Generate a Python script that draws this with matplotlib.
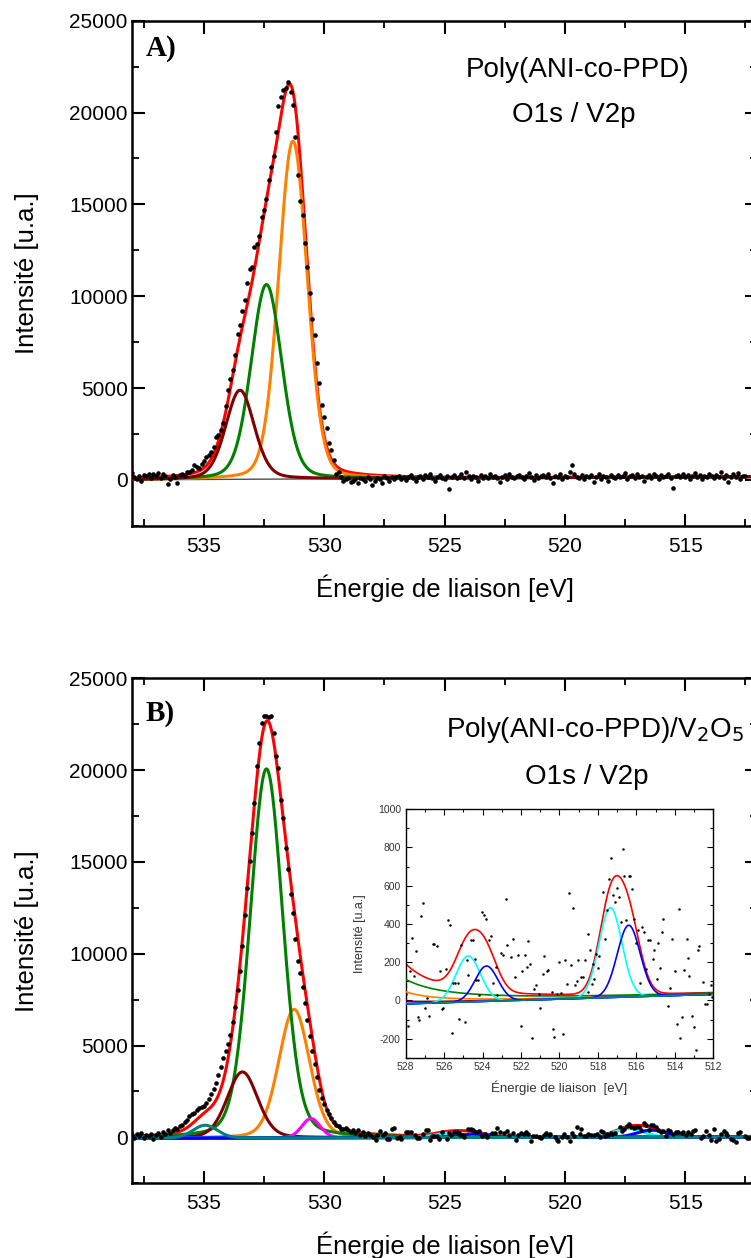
import numpy as np
import matplotlib
matplotlib.use("Agg")
import matplotlib.pyplot as plt
from matplotlib.ticker import MultipleLocator

plt.rcParams['font.family'] = ['Liberation Sans', 'DejaVu Sans']
plt.rcParams['axes.unicode_minus'] = False

# ---------------- donnees : Poly(ANI-co-PPD)  (pas 0.1 eV depuis 538 eV)
intens_A = [
    380, 150, 60, 230, -60, 240, 210, 340, 120, 290,
    200, 380, 110, 310, 220, -250, 60, 240, 130, -150,
    280, 320, 190, 450, 420, 520, 780, 700, 640, 870,
    1000, 1230, 1350, 1500, 1780, 2320, 2450, 2690, 3100, 4000,
    4900, 5500, 6000, 6780, 7960, 8410, 9200, 9775, 10700, 11460,
    11600, 12680, 12860, 13300, 14300, 14720, 15300, 16320, 17040, 17620,
    18930, 20350, 20860, 21220, 21350, 21680, 21100, 20400, 18680, 16600,
    15200, 14400, 12870, 11580, 10150, 8780, 7900, 6350, 5250, 4050,
    3410, 2800, 1980, 1600, 1100, 340, 420, 180, -50, 60,
    120, -120, -60, 40, -150, 80, 20, -90, 150, 60,
    -300, -40, 120, 60, -180, 210, 90, -60, 160, 40,
    130, 220, 70, 150, -20, 180, 260, 100, -80, 140,
    200, 60, 240, 130, 310, 90, -40, 170, 250, 120,
    30, 200, -480, 140, 260, 80, 180, 320, 110, 400,
    190, 50, 230, 160, -60, 270, 120, 210, 80, 340,
    150, 230, 90, -100, 180, 250, 40, 300, 160, 110,
    200, 280, 130, 60, 220, 350, 170, -20, 240, 100,
    190, 260, 140, 330, 80, -160, 210, 170, 290, 50,
    230, 180, 420, 780, 300, 150, 90, 240, 30, 200,
    130, 260, -120, 170, 330, 70, 210, 150, -60, 250,
    180, 90, 280, 140, 220, 360, 40, 190, 260, 110,
    300, 170, 230, -40, 150, 280, 100, 340, 200, 60,
    250, 130, 210, 300, 80, -470, 190, 260, 140, 320,
    170, 240, 60, 190, 370, 130, 280, 20, 220, 160,
    310, 200, 90, 260, 150, 400, 110, 240, -100, 180,
    290, 140, 360, 30, 230, 190,
]

# composantes du fit A : centre, hauteur, FWHM, part lorentzienne
centre_A = [533.5, 532.4, 531.3]
hauteur_A = [4850, 10600, 18400]
fwhm_A = [1.4, 1.5, 1.4]
eta_A = [0.25, 0.2, 0.15]
couleur_A = ['#800000', '#008000', '#ff8000']
fond_A = [0, 170]          # ligne de base a 538 eV et 512 eV

# ---------------- donnees : Poly(ANI-co-PPD)/V2O5
# pic O1s (pas 0.1 eV de 538.0 a 528.1 eV)
intens_B = [
    120, -60, 180, 60, 240, -30, 150, 90, 200, -80,
    110, 230, 40, 310, 180, 420, 260, 380, 520, 450,
    610, 700, 820, 950, 1180, 1250, 1330, 1480, 1600, 1650,
    1690, 1875, 2100, 2350, 2650, 2950, 3400, 3850, 4300, 4700,
    5100, 5600, 6300, 7100, 8000, 9050, 10410, 12085, 13590, 15050,
    16590, 18230, 20220, 21460, 22550, 22950, 22950, 22900, 22950, 22040,
    20770, 20100, 18370, 17410, 15780, 14590, 13230, 12230, 10830, 9590,
    8960, 8200, 7300, 6400, 5500, 4700, 4000, 3300, 2600, 2150,
    1800, 1500, 1250, 1050, 850, 700, 600, 480, 440, 520,
    380, 300, 420, 250, 380, 150, 290, 60, 230, 120,
]

energie_V = [
    527.98, 527.86, 527.79, 527.69, 527.57, 527.48, 527.38, 527.29, 527.20, 527.10,
    526.98, 526.87, 526.80, 526.60, 526.51, 526.39, 526.21, 526.13, 526.04, 525.90,
    525.78, 525.69, 525.59, 525.52, 525.42, 525.30, 525.21, 525.11, 524.90, 524.83,
    524.74, 524.62, 524.48, 524.39, 524.34, 524.24, 524.17, 524.01, 523.91, 523.82,
    523.68, 523.58, 523.44, 523.32, 523.23, 523.02, 522.92, 522.80, 522.71, 522.52,
    522.40, 522.30, 522.14, 522.02, 521.95, 521.81, 521.71, 521.62, 521.53, 521.41,
    521.31, 521.20, 521.08, 521.00, 520.88, 520.79, 520.67, 520.60, 520.41, 520.32,
    520.27, 520.13, 520.04, 519.92, 519.80, 519.70, 519.63, 519.51, 519.38, 519.32,
    519.19, 519.11, 519.02, 518.90, 518.80, 518.67, 518.53, 518.50, 518.41, 518.33,
    518.26, 518.19, 518.10, 518.02, 517.93, 517.72, 517.63, 517.55, 517.43, 517.32,
    517.23, 517.11, 517.03, 516.91, 516.82, 516.70, 516.63, 516.52, 516.40, 516.33,
    516.21, 516.13, 516.02, 515.93, 515.81, 515.73, 515.61, 515.50, 515.38, 515.29,
    515.15, 515.07, 514.95, 514.86, 514.77, 514.67, 514.60, 514.34, 514.25, 514.15,
    514.01, 513.91, 513.80, 513.73, 513.61, 513.51, 513.39, 513.32, 513.25, 513.11,
    513.02, 512.90, 512.81, 512.73, 512.52, 512.43, 512.35, 512.24, 512.14, 512.09,
]
intens_V = [
    31, -135, 152, 329, 126, 261, -89, -105, 440, 507,
    -38, 10, -82, 297, 294, 285, 152, -44, -38, 164,
    420, 397, -170, 93, 93, 91, -96, 292, -114, 211,
    135, 315, 315, 217, 105, 105, 26, 461, 449, 425,
    318, 339, 93, 173, 26, 250, 239, 533, 288, 227,
    320, 122, 236, -133, 154, 239, 175, 309, 192, -198,
    59, 79, 33, -40, 138, 231, 154, 157, 44, -149,
    -189, 35, 199, 38, -175, 213, 87, 563, 184, 481,
    82, 100, 210, 122, 124, 210, 42, 346, 266, 87,
    192, 114, 245, 171, 234, 565, 323, 472, 633, 746,
    551, 516, 586, 542, 411, 790, 650, 423, 650, 650,
    582, 428, 301, 367, 91, 385, 358, 164, 318, 318,
    218, 266, 114, 302, 168, 358, 428, -28, 65, 323,
    154, -126, 477, -196, -87, 157, 323, 224, 128, -84,
    -140, -259, 264, 287, 98, -17, -17, 35, 79, 17,
]

# composantes du fit B
centre_B = [534.95, 533.4, 532.4, 531.25, 530.55, 524.75, 523.8, 517.35, 516.4]
hauteur_B = [700, 3600, 20100, 7000, 1050, 240, 185, 470, 375]
fwhm_B = [1.2, 1.5, 1.6, 1.5, 0.9, 1.5, 1.4, 1.4, 1.4]
eta_B = [0.1, 0.2, 0.2, 0.18, 0.1, 0.0, 0.0, 0.0, 0.0]
couleur_B = ['#008080', '#800000', '#008000', '#ff8000', '#ff00ff',
             '#00ffff', '#0000ff', '#00ffff', '#0000ff']
ordre_B = [9, 5, 4, 3, 6, 7, 8, 7, 8]
fond_B = [-50, 32]


def pseudo_voigt(x, c, h, w, eta):
    d2 = ((x - c) / w) ** 2
    return h * ((1 - eta) * np.exp(-4 * np.log(2) * d2) + eta / (1 + 4 * d2))


def ligne_base(x, fond):
    return fond[0] + (538 - x) * (fond[1] - fond[0]) / 26.0


def habille(ax, lettre, titre1, titre2, ytitre):
    ax.set_xlim(538, 512)
    ax.set_ylim(-2500, 25000)
    ax.xaxis.set_major_locator(MultipleLocator(5))
    ax.xaxis.set_minor_locator(MultipleLocator(2.5))
    ax.yaxis.set_major_locator(MultipleLocator(5000))
    ax.yaxis.set_minor_locator(MultipleLocator(2500))
    ax.tick_params(which='both', direction='in', top=True, right=True)
    ax.tick_params(which='major', length=9, width=1.5, labelsize=15)
    ax.tick_params(which='minor', length=5, width=1.3)
    ax.tick_params(axis='x', which='major', pad=8)
    ax.tick_params(axis='y', which='major', pad=3)
    for s in ax.spines.values():
        s.set_linewidth(1.8)
    ax.set_xlabel('Énergie de liaison [eV]', fontsize=18.5)
    ax.set_ylabel('Intensité [u.a.]', fontsize=18.5)
    ax.xaxis.set_label_coords(0.5, -0.096)
    ax.yaxis.set_label_coords(-0.148, 0.5)
    ax.text(0.022, ytitre, lettre, transform=ax.transAxes, fontsize=21,
            fontweight='bold', family='Liberation Serif', va='center', ha='left')
    ax.text(titre1[1], titre1[2], titre1[0], transform=ax.transAxes,
            fontsize=20, ha='center', va='center')
    ax.text(titre2[1], titre2[2], titre2[0], transform=ax.transAxes,
            fontsize=20, ha='center', va='center')


fig = plt.figure(figsize=(7.51, 12.58), dpi=100)
axA = fig.add_axes([0.1754, 0.5821, 0.833, 0.4014])
axB = fig.add_axes([0.1754, 0.0594, 0.833, 0.4014])

x_fit = np.linspace(538, 512, 1300)

# ---- panneau A
eA = 538.0 - 0.1 * np.arange(len(intens_A))
bA = ligne_base(x_fit, fond_A)
axA.plot(x_fit, bA, color='#4d4d4d', lw=1.0, zorder=2)
somme = bA.copy()
for c, h, w, e in zip(centre_A, hauteur_A, fwhm_A, eta_A):
    somme += pseudo_voigt(x_fit, c, h, w, e)
axA.plot(x_fit, somme, color='#ff0000', lw=2.2, zorder=3)
for k, (c, h, w, e) in enumerate(zip(centre_A, hauteur_A, fwhm_A, eta_A)):
    axA.plot(x_fit, bA + pseudo_voigt(x_fit, c, h, w, e), color=couleur_A[k],
             lw=2.2, zorder=6 - k)
axA.plot(eA, intens_A, 'o', color='black', ms=3.3, mew=0, zorder=10)
habille(axA, 'A)', ('Poly(ANI-co-PPD)', 0.712, 0.902),
        ('O1s / V2p', 0.706, 0.813), 0.945)

# ---- panneau B
eB = np.concatenate([538.0 - 0.1 * np.arange(len(intens_B)), energie_V])
iB = np.concatenate([intens_B, intens_V])
bB = ligne_base(x_fit, fond_B)
compos_B = [bB + pseudo_voigt(x_fit, c, h, w, e)
            for c, h, w, e in zip(centre_B, hauteur_B, fwhm_B, eta_B)]
somme_B = bB + sum(pseudo_voigt(x_fit, c, h, w, e)
                   for c, h, w, e in zip(centre_B, hauteur_B, fwhm_B, eta_B))
axB.plot(x_fit, somme_B, color='#ff0000', lw=2.2, zorder=2)
for k, y in enumerate(compos_B):
    axB.plot(x_fit, y, color=couleur_B[k], lw=2.2, zorder=ordre_B[k])
axB.plot(eB, iB, 'o', color='black', ms=3.3, mew=0, zorder=10)
habille(axB, 'B)', ('Poly(ANI-co-PPD)/V$_2$O$_5$', 0.741, 0.898),
        ('O1s / V2p', 0.728, 0.805), 0.930)

# ---- encart V2p
axI = fig.add_axes([0.5402, 0.1592, 0.4096, 0.1975])
axI.plot(x_fit, somme_B, color='#ff0000', lw=1.2, zorder=2)
for k, y in enumerate(compos_B):
    axI.plot(x_fit, y, color=couleur_B[k], lw=1.2, zorder=ordre_B[k])
axI.plot(eB, iB, 'o', color='black', ms=1.8, mew=0, zorder=12)
axI.set_xlim(528, 512)
axI.set_ylim(-300, 1000)
axI.xaxis.set_major_locator(MultipleLocator(2))
axI.xaxis.set_minor_locator(MultipleLocator(1))
axI.yaxis.set_major_locator(MultipleLocator(200))
axI.yaxis.set_minor_locator(MultipleLocator(100))
axI.tick_params(which='both', direction='in', top=True, right=True,
                labelsize=7.5, labelcolor='#333333', width=0.8)
axI.tick_params(which='major', length=4)
axI.tick_params(which='minor', length=2)
axI.tick_params(axis='x', pad=3)
for s in axI.spines.values():
    s.set_linewidth(1.0)
axI.set_xlabel('Énergie de liaison  [eV]', fontsize=9.5, color='#333333')
axI.set_ylabel('Intensité [u.a.]', fontsize=9, color='#333333')
axI.xaxis.set_label_coords(0.5, -0.09)
axI.yaxis.set_label_coords(-0.13, 0.5)

fig.savefig('out.png', dpi=100)
